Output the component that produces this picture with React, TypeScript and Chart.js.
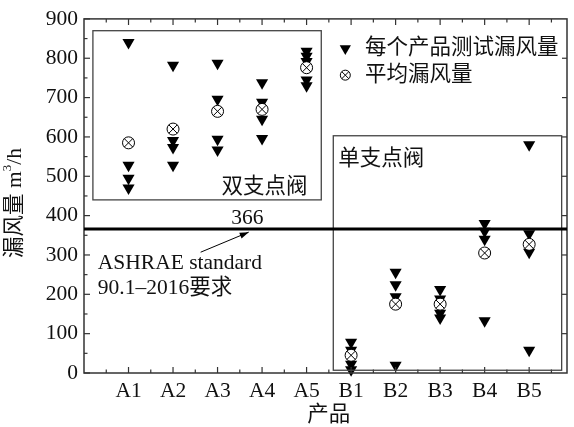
import React, { useEffect, useRef } from "react";
import { Chart, registerables } from "chart.js";

Chart.register(...registerables);

const categories = ["A1", "A2", "A3", "A4", "A5", "B1", "B2", "B3", "B4", "B5"];
// individual product test leakage (m3/h) per category
const tests: number[][] = [
  [840, 528, 495, 470],
  [782, 591, 573, 528],
  [787, 696, 594, 567],
  [738, 688, 645, 596],
  [818, 805, 792, 745, 730],
  [78, 58, 40, 22, 8],
  [256, 224, 194, 20],
  [212, 188, 172, 152, 140],
  [380, 360, 340, 133],
  [580, 354, 307, 58],
];
const means = [585, 620, 665, 670, 776, 45, 175, 175, 305, 327];
const yTicks = [0, 100, 200, 300, 400, 500, 600, 700, 800, 900];
const standardValue = 366;
const labels = {
  yTitle: "漏风量 m",
  yTitleSup: "3",
  yTitleTail: "/h",
  xTitle: "产品",
  legendTest: "每个产品测试漏风量",
  legendMean: "平均漏风量",
  doubleValve: "双支点阀",
  singleValve: "单支点阀",
  std1: "ASHRAE standard",
  std2: "90.1\u20132016要求",
  stdValue: "366",
};

const FONT = '"Liberation Serif", "Noto Sans CJK SC", serif';
const FS = 21.5;

if (typeof document !== "undefined") {
  document.body.style.margin = "0";
}

const annotPlugin = {
  id: "annot",
  afterDatasetsDraw(chart: any) {
    const { ctx, chartArea: ca } = chart;
    const xs = chart.scales.x;
    const ys = chart.scales.y;
    const px = (v: number) => xs.getPixelForValue(v);
    const py = (v: number) => ys.getPixelForValue(v);
    ctx.save();

    // frame
    ctx.strokeStyle = "#333";
    ctx.lineWidth = 1.5;
    ctx.strokeRect(ca.left, ca.top, ca.right - ca.left, ca.bottom - ca.top);

    // y ticks (inward)
    ctx.lineWidth = 1.2;
    for (let v = 0; v <= 900; v += 50) {
      const y = py(v);
      const major = v % 100 === 0;
      const len = major ? 6 : 3.5;
      ctx.beginPath();
      ctx.moveTo(ca.left, y);
      ctx.lineTo(ca.left + len, y);
      ctx.stroke();
      if (major && v > 0 && v < 900) {
        ctx.beginPath();
        ctx.moveTo(ca.right, y);
        ctx.lineTo(ca.right - 5, y);
        ctx.stroke();
      }
    }
    // x ticks (inward, bottom and top)
    for (let v = 0.5; v < 10.85; v += 0.5) {
      const x = px(v);
      const major = Math.abs(v - Math.round(v)) < 1e-6;
      const len = major ? 6 : 3.5;
      ctx.beginPath();
      ctx.moveTo(x, ca.bottom);
      ctx.lineTo(x, ca.bottom - len);
      ctx.moveTo(x, ca.top);
      ctx.lineTo(x, ca.top + len);
      ctx.stroke();
    }

    // inset boxes
    ctx.strokeStyle = "#444";
    ctx.lineWidth = 1.3;
    const box = (x0: number, x1: number, y0: number, y1: number) => {
      ctx.strokeRect(px(x0), py(y1), px(x1) - px(x0), py(y0) - py(y1));
    };
    box(0.2, 5.33, 440, 870);
    box(5.6, 10.73, 7, 603);

    // standard line
    ctx.strokeStyle = "#000";
    ctx.lineWidth = 3;
    ctx.beginPath();
    ctx.moveTo(ca.left, py(standardValue));
    ctx.lineTo(ca.right, py(standardValue));
    ctx.stroke();

    // arrow
    const ax0 = px(2.62), ay0 = py(307), ax1 = px(3.7), ay1 = py(358);
    ctx.lineWidth = 1;
    ctx.beginPath();
    ctx.moveTo(ax0, ay0);
    ctx.lineTo(ax1, ay1);
    ctx.stroke();
    const ang = Math.atan2(ay1 - ay0, ax1 - ax0);
    const hl = 9, hw = 3;
    ctx.fillStyle = "#000";
    ctx.beginPath();
    ctx.moveTo(ax1, ay1);
    ctx.lineTo(ax1 - hl * Math.cos(ang) + hw * Math.sin(ang), ay1 - hl * Math.sin(ang) - hw * Math.cos(ang));
    ctx.lineTo(ax1 - hl * Math.cos(ang) - hw * Math.sin(ang), ay1 - hl * Math.sin(ang) + hw * Math.cos(ang));
    ctx.closePath();
    ctx.fill();

    // texts
    ctx.fillStyle = "#111";
    ctx.textBaseline = "middle";
    ctx.font = FS + "px " + FONT;
    ctx.textAlign = "center";
    ctx.fillText(labels.stdValue, px(3.67), py(392));
    ctx.textAlign = "left";
    ctx.fillText(labels.std1, px(0.31), py(279));
    ctx.fillText(labels.std2, px(0.31), py(216));
    ctx.fillText(labels.doubleValve, px(3.09), py(472));
    ctx.fillText(labels.singleValve, px(5.71), py(543));

    // legend
    const lx = px(5.87);
    const l1 = py(825);
    const l2 = py(757);
    ctx.fillStyle = "#000";
    const r = 6.5;
    ctx.beginPath();
    ctx.moveTo(lx - r * 0.866, l1 - r * 0.5);
    ctx.lineTo(lx + r * 0.866, l1 - r * 0.5);
    ctx.lineTo(lx, l1 + r);
    ctx.closePath();
    ctx.fill();
    const rc = 5;
    ctx.strokeStyle = "#000";
    ctx.lineWidth = 1;
    ctx.beginPath();
    ctx.arc(lx, l2, rc, 0, Math.PI * 2);
    ctx.stroke();
    ctx.beginPath();
    const d = rc * 0.707;
    ctx.moveTo(lx - d, l2 - d);
    ctx.lineTo(lx + d, l2 + d);
    ctx.moveTo(lx + d, l2 - d);
    ctx.lineTo(lx - d, l2 + d);
    ctx.stroke();
    ctx.fillStyle = "#111";
    ctx.textAlign = "left";
    ctx.fillText(labels.legendTest, px(6.31), l1);
    ctx.fillText(labels.legendMean, px(6.31), l2);

    // axis titles
    ctx.textAlign = "center";
    ctx.fillText(labels.xTitle, px(5.5), 415);

    ctx.save();
    ctx.translate(15, 203);
    ctx.rotate(-Math.PI / 2);
    ctx.textAlign = "left";
    const w1 = ctx.measureText(labels.yTitle).width;
    ctx.font = "13px " + FONT;
    const w2 = ctx.measureText(labels.yTitleSup).width;
    ctx.font = FS + "px " + FONT;
    const w3 = ctx.measureText(labels.yTitleTail).width;
    const total = w1 + w2 + w3;
    let cx = -total / 2;
    ctx.fillText(labels.yTitle, cx, 0);
    cx += w1;
    ctx.font = "13px " + FONT;
    ctx.fillText(labels.yTitleSup, cx, -7);
    cx += w2;
    ctx.font = FS + "px " + FONT;
    ctx.fillText(labels.yTitleTail, cx, 0);
    ctx.restore();

    ctx.restore();
  },
};

export default function App() {
  const ref = useRef<HTMLCanvasElement | null>(null);
  useEffect(() => {
    if (!ref.current) return;
    const testPoints: { x: number; y: number }[] = [];
    tests.forEach((arr, i) => arr.forEach((v) => testPoints.push({ x: i + 1, y: v })));
    const meanPoints = means.map((v, i) => ({ x: i + 1, y: v }));
    const chart = new Chart(ref.current, {
      type: "scatter",
      data: {
        datasets: [
          {
            label: "mean-x",
            data: meanPoints,
            pointStyle: "crossRot",
            radius: 6,
            borderColor: "#000",
            borderWidth: 1,
            backgroundColor: "#000",
            clip: false,
            order: 0,
          } as any,
          {
            label: "mean-c",
            data: meanPoints,
            pointStyle: "circle",
            radius: 6,
            borderColor: "#000",
            borderWidth: 1,
            backgroundColor: "#fff",
            clip: false,
            order: 1,
          } as any,
          {
            label: "tests",
            data: testPoints,
            pointStyle: "triangle",
            rotation: 180,
            radius: 7,
            borderWidth: 0,
            borderColor: "#000",
            backgroundColor: "#000",
            clip: false,
            order: 2,
          } as any,
        ],
      },
      options: {
        animation: false,
        responsive: false,
        maintainAspectRatio: false,
        layout: { padding: { top: 15, right: 2, left: 0, bottom: 0 } },
        plugins: { legend: { display: false }, tooltip: { enabled: false } },
        scales: {
          x: {
            type: "linear",
            min: 0,
            max: 10.85,
            grid: { display: false, drawTicks: false },
            border: { display: false },
            afterBuildTicks: (s: any) => {
              s.ticks = categories.map((_, i) => ({ value: i + 1 }));
            },
            afterFit: (s: any) => {
              s.height = 54;
            },
            ticks: {
              autoSkip: false,
              maxRotation: 0,
              padding: 5,
              color: "#111",
              font: { family: FONT, size: FS },
              callback: (v: any) => categories[Math.round(Number(v)) - 1] ?? "",
            },
          },
          y: {
            type: "linear",
            min: 0,
            max: 900,
            grid: { display: false, drawTicks: false },
            border: { display: false },
            afterBuildTicks: (s: any) => {
              s.ticks = yTicks.map((v) => ({ value: v }));
            },
            afterFit: (s: any) => {
              s.width = 84;
            },
            ticks: {
              padding: 6,
              color: "#111",
              font: { family: FONT, size: FS },
            },
          },
        },
      },
      plugins: [annotPlugin],
    });
    return () => chart.destroy();
  }, []);
  return (
    <div style={{ width: 574, height: 427 }}>
      <canvas ref={ref} width={574} height={427} style={{ display: "block" }} />
    </div>
  );
}
